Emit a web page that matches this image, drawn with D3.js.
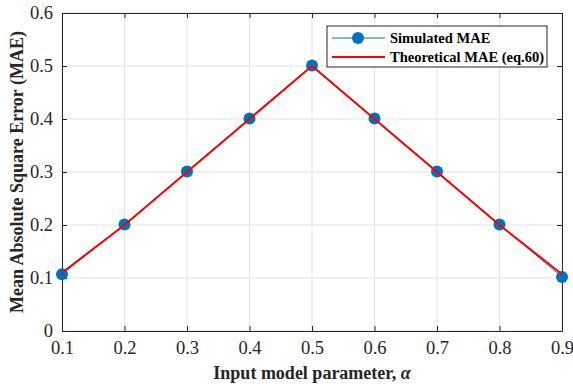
<!DOCTYPE html>
<html>
<head>
<meta charset="utf-8">
<script src="https://cdn.jsdelivr.net/npm/d3@7"></script>
<style>
  body { margin: 0; background: #fff; }
  text { font-family: "Liberation Serif", "Times New Roman", serif; }
</style>
</head>
<body>
<svg id="chart" width="573" height="384"></svg>
<script>
// data
const alphas = [0.1, 0.2, 0.3, 0.4, 0.5, 0.6, 0.7, 0.8, 0.9]
const simulatedMAE = [0.107, 0.201, 0.301, 0.401, 0.501, 0.401, 0.301, 0.201, 0.102]
const theoreticalMAE = [0.11, 0.2, 0.3, 0.4, 0.5, 0.4, 0.3, 0.2, 0.107]
const xTicks = [0.1, 0.2, 0.3, 0.4, 0.5, 0.6, 0.7, 0.8, 0.9]
const yTicks = [0, 0.1, 0.2, 0.3, 0.4, 0.5, 0.6]

const margin = { top: 13, right: 11, bottom: 53, left: 62 }
const width = 573 - margin.left - margin.right
const height = 384 - margin.top - margin.bottom

const svg = d3.select("#chart")
const g = svg.append("g")
    .attr("transform", `translate(${margin.left}, ${margin.top})`)

const xScale = d3.scaleLinear().domain([0.1, 0.9]).range([0, width])
const yScale = d3.scaleLinear().domain([0, 0.6]).range([height, 0])

// grid
g.append("g").selectAll("line").data(xTicks).join("line")
    .attr("x1", d => xScale(d)).attr("x2", d => xScale(d))
    .attr("y1", 0).attr("y2", height)
    .attr("stroke", "#e3e3e3").attr("stroke-width", 1)
g.append("g").selectAll("line").data(yTicks).join("line")
    .attr("x1", 0).attr("x2", width)
    .attr("y1", d => yScale(d)).attr("y2", d => yScale(d))
    .attr("stroke", "#e3e3e3").attr("stroke-width", 1)

// axes (MATLAB style, inward ticks, box)
const fmt = d => d === 0 ? "0" : d3.format(".1f")(d)
const xAxis = d3.axisBottom(xScale).tickValues(xTicks).tickSizeInner(-5).tickSizeOuter(0).tickPadding(10).tickFormat(fmt)
const yAxis = d3.axisLeft(yScale).tickValues(yTicks).tickSizeInner(-5).tickSizeOuter(0).tickPadding(9).tickFormat(fmt)
const xTop = d3.axisTop(xScale).tickValues(xTicks).tickSizeInner(-5).tickSizeOuter(0).tickFormat("")
const yRight = d3.axisRight(yScale).tickValues(yTicks).tickSizeInner(-5).tickSizeOuter(0).tickFormat("")

g.append("g").attr("class", "x-axis").attr("transform", `translate(0, ${height})`).call(xAxis)
g.append("g").attr("class", "y-axis").call(yAxis)
g.append("g").attr("class", "x-top").call(xTop)
g.append("g").attr("class", "y-right").attr("transform", `translate(${width}, 0)`).call(yRight)

g.selectAll(".x-axis, .y-axis, .x-top, .y-right").selectAll("path, line")
    .attr("stroke", "#262626")
g.selectAll(".x-axis text, .y-axis text")
    .attr("font-family", "Liberation Serif")
    .attr("font-size", 18.5)
    .attr("fill", "#262626")

// lines
const line = (vals) => d3.line()
    .x((d, i) => xScale(alphas[i]))
    .y(d => yScale(d))(vals)

g.append("path")
    .attr("d", line(simulatedMAE))
    .attr("fill", "none")
    .attr("stroke", "#0072BD")
    .attr("stroke-width", 1)

g.append("g").selectAll("circle").data(simulatedMAE).join("circle")
    .attr("cx", (d, i) => xScale(alphas[i]))
    .attr("cy", d => yScale(d))
    .attr("r", 6)
    .attr("fill", "#0072BD")

g.append("path")
    .attr("d", line(theoreticalMAE))
    .attr("fill", "none")
    .attr("stroke", "#ff0000")
    .attr("stroke-width", 2)

// axis labels
svg.append("text")
    .attr("x", margin.left + width / 2)
    .attr("y", 379)
    .attr("text-anchor", "middle")
    .attr("font-size", 18)
    .attr("font-weight", "bold")
    .attr("fill", "#262626")
    .html('Input model parameter, <tspan font-style="italic">α</tspan>')

svg.append("text")
    .attr("transform", `translate(23, ${margin.top + height / 2}) rotate(-90)`)
    .attr("text-anchor", "middle")
    .attr("font-size", 18)
    .attr("font-weight", "bold")
    .attr("fill", "#262626")
    .text("Mean Absolute Square Error (MAE)")

// legend
const legend = svg.append("g").attr("transform", "translate(327, 26)")
legend.append("rect")
    .attr("width", 220).attr("height", 41)
    .attr("fill", "#fff").attr("stroke", "#262626").attr("stroke-width", 1)
legend.append("line")
    .attr("x1", 5).attr("x2", 58).attr("y1", 12).attr("y2", 12)
    .attr("stroke", "#0072BD").attr("stroke-width", 1)
legend.append("circle").attr("cx", 31).attr("cy", 12).attr("r", 6).attr("fill", "#0072BD")
legend.append("line")
    .attr("x1", 5).attr("x2", 58).attr("y1", 31).attr("y2", 31)
    .attr("stroke", "#ff0000").attr("stroke-width", 2)
legend.selectAll("text.lbl").data(["Simulated MAE", "Theoretical MAE (eq.60)"]).join("text")
    .attr("class", "lbl")
    .attr("x", 63)
    .attr("y", (d, i) => 17 + i * 19)
    .attr("font-size", 14.5)
    .attr("font-weight", "bold")
    .attr("fill", "#000")
    .text(d => d)
</script>
</body>
</html>
